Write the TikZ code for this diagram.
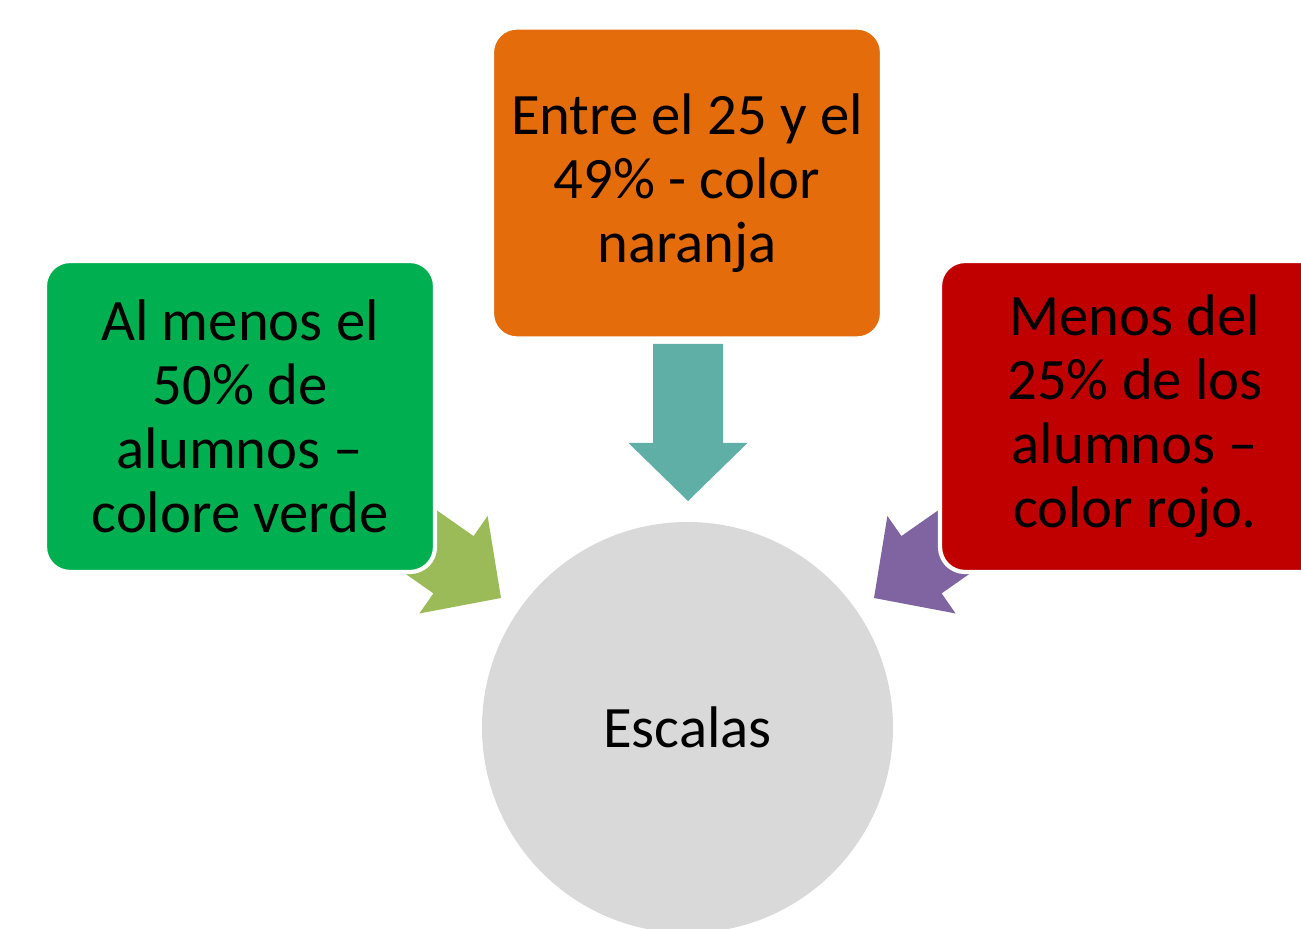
\documentclass[tikz,border=0pt]{standalone}
\usepackage{fontspec}
\setmainfont{Carlito}
\definecolor{levelgreen}{RGB}{0,176,80}
\definecolor{levelorange}{RGB}{228,108,10}
\definecolor{levelred}{RGB}{192,0,0}
\definecolor{centregray}{RGB}{217,217,217}
\definecolor{arrowteal}{RGB}{96,175,166}
\definecolor{arrowgreen}{RGB}{155,187,89}
\definecolor{arrowpurple}{RGB}{128,100,162}
\tikzstyle{level box}=[rectangle,rounded corners=2.5mm,draw=white,line width=1.2pt,
    minimum width=3.9cm,minimum height=3.11cm,inner sep=0pt,align=center,
    font=\fontsize{16.7}{18.2}\selectfont]
\tikzstyle{centre}=[circle,fill=centregray,minimum size=4.11cm,inner sep=0pt,
    font=\fontsize{16.7}{18.2}\selectfont]
\newcommand{\blockarrow}[3][]{
    \begin{scope}[shift={(#2)},rotate=#3]
    \fill[#1] (0,0) -- (-0.58,0.595) -- (-0.58,0.35) -- (-1.57,0.35) --
        (-1.57,-0.35) -- (-0.58,-0.35) -- (-0.58,-0.595) -- cycle;
    \end{scope}
}

\begin{document}
\begin{tikzpicture}
    \path[use as bounding box,clip] (0,0) rectangle (13.01,9.29);
    %
    \coordinate (tipL) at (5.01,3.31);
    \coordinate (tipT) at (6.88,4.28);
    \coordinate (tipR) at (8.74,3.31);
    \blockarrow[arrowgreen]{tipL}{-35}
    \blockarrow[arrowteal]{tipT}{-90}
    \blockarrow[arrowpurple]{tipR}{-145}
    %
    \node[centre] (escalas) at (6.875,2.015) {Escalas};
    \node[level box,fill=levelgreen] (verde) at (2.40,5.125)
        {Al menos el\\50\% de\\alumnos –\\colore verde};
    \node[level box,fill=levelorange] (naranja) at (6.87,7.46)
        {Entre el 25 y el\\49\% - color\\naranja};
    \node[level box,fill=levelred] (rojo) at (11.35,5.125)
        {Menos del\\25\% de los\\alumnos –\\color rojo.};
\end{tikzpicture}
\end{document}
